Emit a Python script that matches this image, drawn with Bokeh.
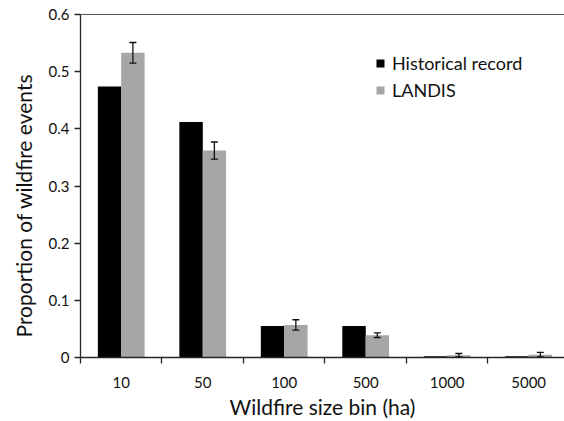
from bokeh.plotting import figure
from bokeh.models import (ColumnDataSource, Range1d, FixedTicker, LinearAxis,
                          Whisker, TeeHead, Legend, LegendItem, Title)
from bokeh.embed import file_html
from bokeh.resources import INLINE

# ---- data ----
categories = ["10", "50", "100", "500", "1000", "5000"]
historical = [0.474, 0.412, 0.055, 0.055, 0.002, 0.002]
landis = [0.533, 0.362, 0.057, 0.039, 0.004, 0.005]
landis_err = [0.018, 0.015, 0.009, 0.004, 0.003, 0.004]
y_ticks = [0, 0.1, 0.2, 0.3, 0.4, 0.5, 0.6]
y_labels = ["0", "0.1", "0.2", "0.3", "0.4", "0.5", "0.6"]

# ---- style ----
FONT = "Lato"
TXT = "#111111"
AX = "#262626"
GREY = "#a6a6a6"
OFF = 0.143
BW = 0.288

idx = list(range(len(categories)))
centers = [i + 0.5 for i in idx]
bounds = idx + [len(categories)]

src = ColumnDataSource(dict(
    xh=[c - OFF for c in centers],
    xl=[c + OFF for c in centers],
    hist=historical,
    landis=landis,
    upper=[v + e for v, e in zip(landis, landis_err)],
    lower=[v - e for v, e in zip(landis, landis_err)],
))

p = figure(width=564, height=421, output_backend="svg", toolbar_location=None,
           x_range=Range1d(0, 5.94), y_range=Range1d(0, 0.6),
           min_border_left=79, min_border_right=0, min_border_top=14,
           min_border_bottom=62)
p.grid.visible = False
p.outline_line_color = None
p.background_fill_color = "white"

r1 = p.vbar(x="xh", top="hist", width=BW, source=src,
            fill_color="#000000", line_color=None)
r2 = p.vbar(x="xl", top="landis", width=BW, source=src,
            fill_color=GREY, line_color=None)

w = Whisker(source=src, base="xl", upper="upper", lower="lower",
            line_color="#111111", line_width=1.3, level="overlay",
            upper_head=TeeHead(size=7, line_color="#111111", line_width=1.3),
            lower_head=TeeHead(size=7, line_color="#111111", line_width=1.3))
p.add_layout(w)

# x axis: labels at centers, tick marks at category boundaries
xa = p.xaxis[0]
xa.ticker = FixedTicker(ticks=centers, minor_ticks=bounds)
xa.major_label_overrides = {c: lab for c, lab in zip(centers, categories)}
xa.major_tick_line_color = None
xa.major_tick_in = 0
xa.major_tick_out = 0
xa.minor_tick_in = 0
xa.minor_tick_out = 6
xa.minor_tick_line_color = AX
xa.minor_tick_line_width = 1.3
xa.major_label_standoff = 13
xa.axis_label = "Wildfire size bin (ha)"
xa.axis_label_standoff = 3

ya = p.yaxis[0]
ya.ticker = FixedTicker(ticks=y_ticks, minor_ticks=[])
ya.major_label_overrides = {t: lab for t, lab in zip(y_ticks, y_labels)}
ya.major_tick_in = 0
ya.major_tick_out = 6
ya.major_tick_line_color = AX
ya.major_tick_line_width = 1.3
ya.major_label_standoff = 5

for ax in (xa, ya):
    ax.axis_line_color = AX
    ax.axis_line_width = 1.3
    ax.major_label_text_font = FONT
    ax.major_label_text_font_size = "15px"
    ax.major_label_text_color = TXT
    ax.axis_label_text_font = FONT
    ax.axis_label_text_font_size = "21px"
    ax.axis_label_text_font_style = "normal"
    ax.axis_label_text_color = TXT

# y axis title, placed slightly below the frame centre like the reference
ytitle = Title(text="Proportion of wildfire events", align="left", offset=20,
               vertical_align="middle", standoff=18,
               text_font=FONT, text_font_size="21px",
               text_font_style="normal", text_color=TXT)
p.add_layout(ytitle, "left")

# top frame line
top = LinearAxis(ticker=FixedTicker(ticks=[], minor_ticks=[]),
                 major_tick_in=0, major_tick_out=0, minor_tick_in=0,
                 minor_tick_out=0, major_label_standoff=0,
                 major_label_text_font_size="0px",
                 axis_line_color="#555555", axis_line_width=1.2)
p.add_layout(top, "above")

legend = Legend(items=[LegendItem(label="Historical record", renderers=[r1]),
                       LegendItem(label="LANDIS", renderers=[r2])],
                location=(295, 256), glyph_width=10, glyph_height=10,
                label_height=20, spacing=5, padding=0, margin=0,
                border_line_color=None, background_fill_alpha=0,
                label_standoff=7, label_text_font=FONT,
                label_text_font_size="18px", label_text_color=TXT)
p.add_layout(legend)

open("out.html", "w").write(file_html(p, INLINE))
